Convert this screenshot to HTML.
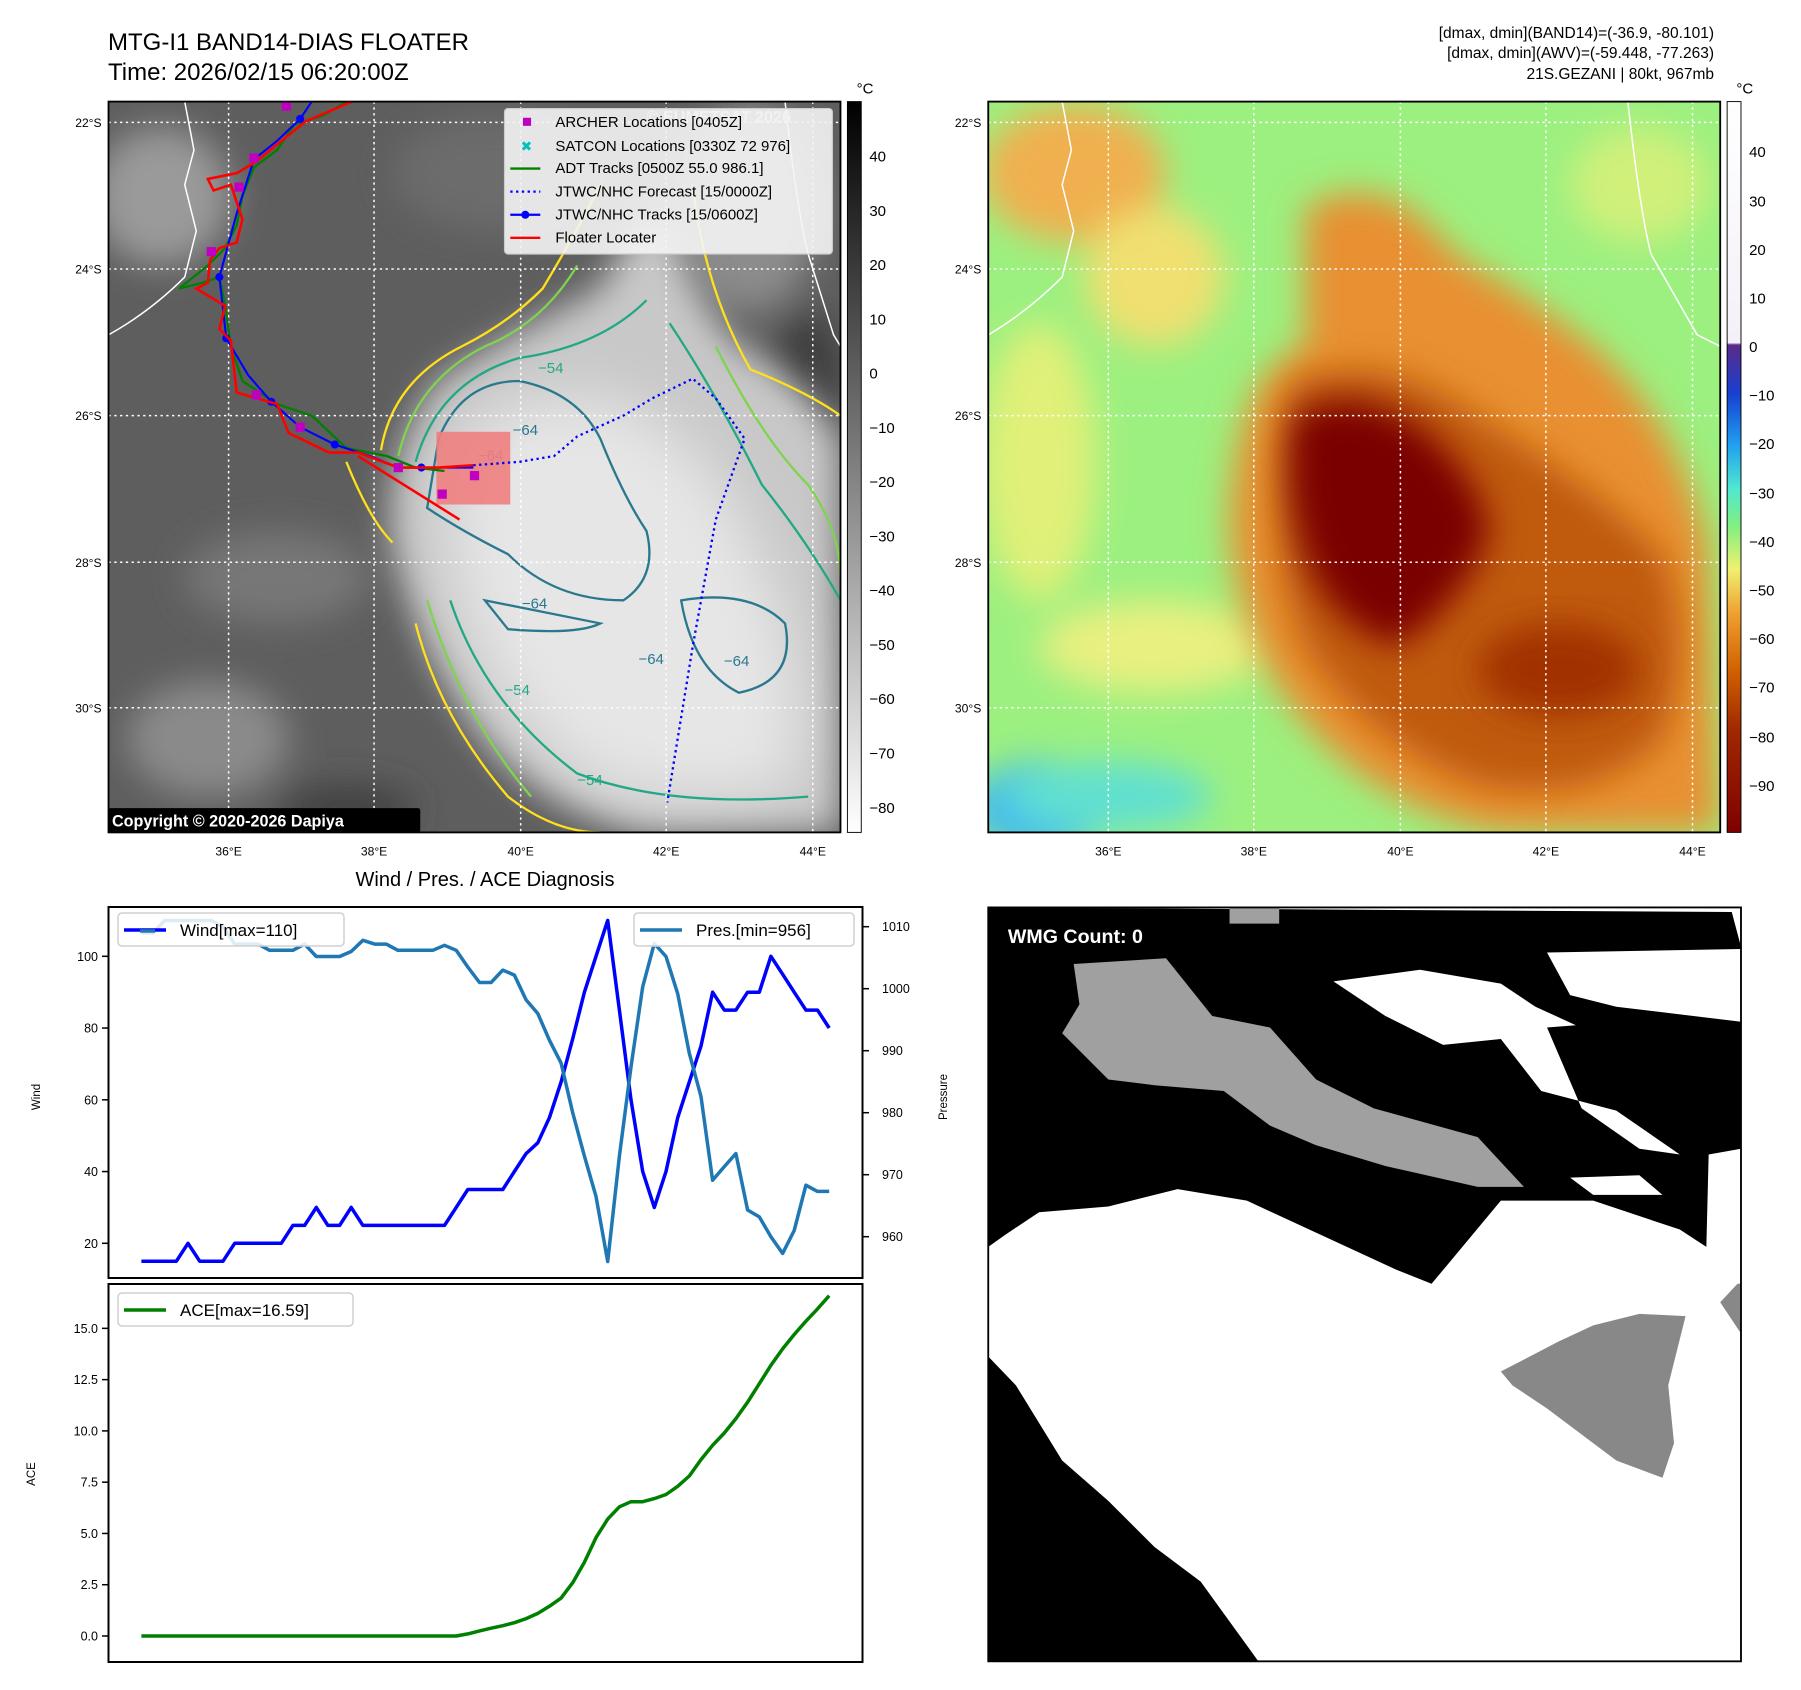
<!DOCTYPE html>
<html><head><meta charset="utf-8"><style>
html,body{margin:0;padding:0;background:#fff}
svg{display:block;font-family:"Liberation Sans","DejaVu Sans",sans-serif}
</style></head><body>
<svg id="root" width="1801" height="1690" viewBox="0 0 1801 1690" xmlns="http://www.w3.org/2000/svg">
<defs>
<filter id="b8" x="-20%" y="-20%" width="140%" height="140%"><feGaussianBlur stdDeviation="8"/></filter>
<filter id="b15" x="-30%" y="-30%" width="160%" height="160%"><feGaussianBlur stdDeviation="15"/></filter>
<filter id="b25" x="-30%" y="-30%" width="160%" height="160%"><feGaussianBlur stdDeviation="25"/></filter>
<clipPath id="cl1"><rect x="94" y="88" width="634" height="633"/></clipPath>
<clipPath id="cl2"><rect x="856" y="88" width="634" height="633"/></clipPath>
<clipPath id="cl3"><rect x="856" y="786" width="652" height="653"/></clipPath>
<linearGradient id="gcb" x1="0" y1="0" x2="0" y2="1"><stop offset="0" stop-color="#000"/><stop offset="1" stop-color="#fff"/></linearGradient>
<linearGradient id="ccb" x1="0" y1="0" x2="0" y2="1">
<stop offset="0" stop-color="#ffffff"/><stop offset="0.33" stop-color="#f4f0f8"/><stop offset="0.333" stop-color="#5a2a8a"/>
<stop offset="0.40" stop-color="#1840d0"/><stop offset="0.47" stop-color="#20a0f0"/><stop offset="0.53" stop-color="#50e8d0"/>
<stop offset="0.58" stop-color="#80f080"/><stop offset="0.64" stop-color="#f0f070"/><stop offset="0.70" stop-color="#f0a030"/>
<stop offset="0.78" stop-color="#d06000"/><stop offset="0.86" stop-color="#a02800"/><stop offset="1" stop-color="#800000"/></linearGradient>
</defs>

<!-- Titles -->
<text x="108" y="50" font-size="24">MTG-I1 BAND14-DIAS FLOATER</text>
<text x="108" y="80" font-size="24">Time: 2026/02/15 06:20:00Z</text>
<g font-size="15.5" text-anchor="end">
<text x="1714" y="38">[dmax, dmin](BAND14)=(-36.9, -80.101)</text>
<text x="1714" y="58">[dmax, dmin](AWV)=(-59.448, -77.263)</text>
<text x="1714" y="79">21S.GEZANI | 80kt, 967mb</text>
</g>

<g transform="scale(1.1545)">
<!-- ===== Panel 1: grayscale IR ===== -->
<g clip-path="url(#cl1)">
<rect x="94" y="88" width="634" height="633" fill="#5e5e5e"/>
<g filter="url(#b15)">
<ellipse cx="140" cy="170" rx="60" ry="60" fill="#9a9a9a"/>
<ellipse cx="240" cy="500" rx="80" ry="40" fill="#777"/>
<ellipse cx="180" cy="640" rx="70" ry="50" fill="#8a8a8a"/>
<ellipse cx="430" cy="150" rx="90" ry="50" fill="#6c6c6c"/>
<ellipse cx="650" cy="180" rx="60" ry="90" fill="#8c8c8c"/>
<ellipse cx="300" cy="700" rx="60" ry="20" fill="#404040"/>
<ellipse cx="700" cy="330" rx="30" ry="60" fill="#3e3e3e"/>
</g>
<path filter="url(#b15)" fill="#c8c8c8" d="M380,330 Q440,290 520,250 Q560,170 580,190 Q600,260 640,300 Q700,330 728,380 L728,721 L560,721 Q470,700 420,640 Q360,560 340,470 Q330,400 380,330Z"/>
<path filter="url(#b25)" fill="#e6e6e6" d="M400,380 Q460,330 540,350 Q620,390 650,470 Q700,560 690,680 Q600,700 520,680 Q430,620 400,520 Q380,440 400,380Z"/>
<g fill="none" stroke-width="2">
<path stroke="#ffe01a" d="M330,390 Q340,330 400,300 Q440,280 470,250 Q500,200 520,160 M360,540 Q380,620 440,690 Q480,721 520,721 M600,160 Q610,250 650,320 Q700,340 728,360 M300,400 Q320,450 340,470"/>
<path stroke="#7fd34e" d="M345,395 Q360,330 420,300 Q470,280 500,230 M370,520 Q400,620 460,690 M620,300 Q660,380 700,420 Q728,460 728,500"/>
<path stroke="#22a884" d="M360,400 Q380,330 450,310 Q520,300 560,260 M390,520 Q420,610 500,670 Q580,700 700,690 M580,280 Q620,340 660,420 Q700,470 728,520"/>
<path stroke="#2a788e" d="M380,380 Q400,330 450,330 Q500,340 520,380 Q540,430 560,460 Q570,500 540,520 Q480,520 440,480 Q400,460 370,440 Z M420,520 Q470,530 520,540 Q500,550 440,545Z M590,520 Q650,510 680,540 Q690,590 640,600 Q600,580 590,520Z"/>
</g>
<g fill="#2a788e" font-size="13"><text x="444" y="377">−64</text><text x="414" y="399">−64</text><text x="452" y="527">−64</text><text x="627" y="577">−64</text><text x="553" y="575">−64</text></g>
<g fill="#22a884" font-size="13"><text x="466" y="323">−54</text><text x="500" y="680">−54</text><text x="437" y="602">−54</text></g>
<g stroke="#fff" stroke-width="1.3" stroke-dasharray="2,3">
<line x1="198" y1="88" x2="198" y2="721"/><line x1="324" y1="88" x2="324" y2="721"/><line x1="451" y1="88" x2="451" y2="721"/><line x1="577" y1="88" x2="577" y2="721"/><line x1="704" y1="88" x2="704" y2="721"/>
<line x1="94" y1="106" x2="728" y2="106"/><line x1="94" y1="233" x2="728" y2="233"/><line x1="94" y1="360" x2="728" y2="360"/><line x1="94" y1="487" x2="728" y2="487"/><line x1="94" y1="613" x2="728" y2="613"/>
</g>
<path d="M94,290 Q130,270 160,240 L170,200 L160,160 L168,130 L160,88 M680,88 Q690,180 700,220 L722,290 L728,300" fill="none" stroke="#fff" stroke-width="1.3"/>
<rect x="378" y="374" width="64" height="63" fill="#f08080" opacity="0.9"/>
<polyline points="410,403 450,400 480,395 500,378 540,360 565,345 600,328 620,345 645,380 620,450 600,560 578,695" fill="none" stroke="#0000ff" stroke-width="2" stroke-dasharray="2,3"/>
<polyline points="300,88 280,100 255,108 240,130 220,145 210,170 205,195 195,215 180,230 155,250 175,245 190,240 195,265 200,300 210,330 240,350 270,360 300,388 335,395 360,405 385,408" fill="none" stroke="#008000" stroke-width="2"/>
<polyline points="270,88 260,103 240,122 220,138 205,185 190,240 196,293 215,325 235,348 260,370 290,385 320,395 345,405 365,405 410,405" fill="none" stroke="#0000ff" stroke-width="1.8"/>
<g fill="#0000ff"><circle cx="260" cy="103" r="3.5"/><circle cx="220" cy="138" r="3.5"/><circle cx="190" cy="240" r="3.5"/><circle cx="196" cy="293" r="3.5"/><circle cx="235" cy="348" r="3.5"/><circle cx="290" cy="385" r="3.5"/><circle cx="365" cy="405" r="3.5"/></g>
<polyline points="305,88 265,105 240,125 222,140 205,150 180,155 185,165 200,160 210,190 205,210 190,215 182,225 180,245 170,250 195,265 190,285 200,295 205,340 240,350 250,375 285,392 310,392 345,405 380,405 410,403" fill="none" stroke="#ff0000" stroke-width="2.2"/>
<line x1="310" y1="395" x2="398" y2="450" stroke="#ff0000" stroke-width="2.2"/>
<g fill="#c000c0"><rect x="244" y="88" width="8" height="8"/><rect x="216" y="133" width="8" height="8"/><rect x="203" y="158" width="8" height="8"/><rect x="179" y="214" width="8" height="8"/><rect x="218" y="338" width="8" height="8"/><rect x="256" y="366" width="8" height="8"/><rect x="341" y="401" width="8" height="8"/><rect x="379" y="424" width="8" height="8"/><rect x="407" y="408" width="8" height="8"/></g>
<g><rect x="94" y="700" width="270" height="21" rx="2" fill="#000"/><text x="97" y="716" fill="#fff" font-size="14" font-weight="bold">Copyright © 2020-2026 Dapiya</text></g>
<text x="560" y="106" fill="#e0e0e0" font-size="14" font-weight="bold">© EUMETSAT 2026</text>
<g>
<rect x="437" y="94" width="284" height="126" rx="3" fill="#f4f4f4" fill-opacity="0.9" stroke="#ccc"/>
<g font-size="13" fill="#000">
<text x="481" y="110">ARCHER Locations [0405Z]</text>
<text x="481" y="131">SATCON Locations [0330Z 72 976]</text>
<text x="481" y="150">ADT Tracks [0500Z 55.0 986.1]</text>
<text x="481" y="170">JTWC/NHC Forecast [15/0000Z]</text>
<text x="481" y="190">JTWC/NHC Tracks [15/0600Z]</text>
<text x="481" y="210">Floater Locater</text>
</g>
<rect x="453" y="102" width="7" height="7" fill="#c000c0"/>
<text x="451" y="131" font-size="12" fill="#00c0c0" font-weight="bold">✖</text>
<line x1="442" y1="146" x2="468" y2="146" stroke="#008000" stroke-width="2"/>
<line x1="442" y1="166" x2="468" y2="166" stroke="#0000ff" stroke-width="2" stroke-dasharray="2,3"/>
<line x1="442" y1="186" x2="468" y2="186" stroke="#0000ff" stroke-width="2"/><circle cx="455" cy="186" r="3.5" fill="#0000ff"/>
<line x1="442" y1="206" x2="468" y2="206" stroke="#ff0000" stroke-width="2"/>
</g>
</g>
<rect x="94" y="88" width="634" height="633" fill="none" stroke="#000" stroke-width="1.6"/>

<rect x="734" y="88" width="12" height="633" fill="url(#gcb)" stroke="#000" stroke-width="0.8"/>
<text x="742" y="81" font-size="13">°C</text>
<g font-size="13">
<text x="753" y="140">40</text><text x="753" y="187">30</text><text x="753" y="234">20</text><text x="753" y="281">10</text><text x="753" y="328">0</text><text x="753" y="375">−10</text><text x="753" y="422">−20</text><text x="753" y="469">−30</text><text x="753" y="516">−40</text><text x="753" y="563">−50</text><text x="753" y="610">−60</text><text x="753" y="657">−70</text><text x="753" y="704">−80</text>
</g>
<g font-size="10.5" text-anchor="end">
<text x="88" y="110">22°S</text><text x="88" y="237">24°S</text><text x="88" y="364">26°S</text><text x="88" y="491">28°S</text><text x="88" y="617">30°S</text></g>
<g font-size="10.5" text-anchor="middle">
<text x="198" y="741">36°E</text><text x="324" y="741">38°E</text><text x="451" y="741">40°E</text><text x="577" y="741">42°E</text><text x="704" y="741">44°E</text></g>

<!-- ===== Panel 2: colour enhanced ===== -->
<g clip-path="url(#cl2)">
<rect x="856" y="88" width="634" height="633" fill="#9cf080"/>
<g filter="url(#b15)">
<ellipse cx="930" cy="150" rx="80" ry="60" fill="#f0b050"/>
<ellipse cx="1000" cy="240" rx="60" ry="60" fill="#f0e070"/>
<ellipse cx="900" cy="400" rx="50" ry="120" fill="#e0f078"/>
<ellipse cx="1000" cy="560" rx="100" ry="40" fill="#e8f080"/>
<ellipse cx="1420" cy="160" rx="60" ry="50" fill="#d0f07a"/>
<ellipse cx="900" cy="700" rx="60" ry="40" fill="#40b8f0"/>
<ellipse cx="960" cy="690" rx="90" ry="30" fill="#60e0d0"/>
</g>
<path filter="url(#b15)" fill="#e89030" d="M1130,180 Q1200,140 1260,220 Q1330,260 1380,300 Q1450,360 1480,470 L1490,721 L1300,721 Q1180,700 1110,600 Q1050,500 1070,400 Q1080,320 1130,300 Z"/>
<path filter="url(#b15)" fill="#c05a10" d="M1120,330 Q1200,300 1280,360 Q1380,420 1440,480 Q1470,560 1440,640 Q1380,700 1280,680 Q1180,640 1130,560 Q1090,460 1120,330Z"/>
<path filter="url(#b15)" fill="#7a0000" d="M1120,360 Q1170,330 1230,370 Q1280,410 1290,460 Q1270,520 1210,560 Q1150,540 1130,480 Q1110,420 1120,360Z"/>
<ellipse filter="url(#b15)" cx="1350" cy="580" rx="70" ry="40" fill="#a03000"/>
<g stroke="#fff" stroke-width="1.3" stroke-dasharray="2,3">
<line x1="960" y1="88" x2="960" y2="721"/><line x1="1086" y1="88" x2="1086" y2="721"/><line x1="1213" y1="88" x2="1213" y2="721"/><line x1="1339" y1="88" x2="1339" y2="721"/><line x1="1466" y1="88" x2="1466" y2="721"/>
<line x1="856" y1="106" x2="1490" y2="106"/><line x1="856" y1="233" x2="1490" y2="233"/><line x1="856" y1="360" x2="1490" y2="360"/><line x1="856" y1="487" x2="1490" y2="487"/><line x1="856" y1="613" x2="1490" y2="613"/>
</g>
<path d="M856,290 Q890,270 920,240 L930,200 L920,160 L928,130 L920,88 M1410,88 Q1420,180 1430,220 L1470,290 L1490,300" fill="none" stroke="#fff" stroke-width="1.3"/>
</g>
<rect x="856" y="88" width="634" height="633" fill="none" stroke="#000" stroke-width="1.6"/>
<rect x="1496" y="88" width="12" height="633" fill="url(#ccb)" stroke="#000" stroke-width="0.8"/>
<text x="1504" y="81" font-size="13">°C</text>
<g font-size="13">
<text x="1515" y="136">40</text><text x="1515" y="179">30</text><text x="1515" y="221">20</text><text x="1515" y="263">10</text><text x="1515" y="305">0</text><text x="1515" y="347">−10</text><text x="1515" y="389">−20</text><text x="1515" y="432">−30</text><text x="1515" y="474">−40</text><text x="1515" y="516">−50</text><text x="1515" y="558">−60</text><text x="1515" y="600">−70</text><text x="1515" y="643">−80</text><text x="1515" y="685">−90</text>
</g>
<g font-size="10.5" text-anchor="end">
<text x="850" y="110">22°S</text><text x="850" y="237">24°S</text><text x="850" y="364">26°S</text><text x="850" y="491">28°S</text><text x="850" y="617">30°S</text></g>
<g font-size="10.5" text-anchor="middle">
<text x="960" y="741">36°E</text><text x="1086" y="741">38°E</text><text x="1213" y="741">40°E</text><text x="1339" y="741">42°E</text><text x="1466" y="741">44°E</text></g>

<!-- ===== Panel 4: WMG ===== -->
<g clip-path="url(#cl3)">
<rect x="856" y="786" width="652" height="653" fill="#fff"/>
<polygon fill="#000" points="856,786 1500,790 1508,820 1508,995 1480,1000 1478,1080 1455,1065 1380,1040 1300,1040 1250,1100 1240,1112 1210,1100 1080,1040 1020,1030 960,1045 900,1050 870,1070 856,1080"/>
<polygon fill="#fff" points="1340,825 1508,822 1508,885 1400,872 1360,862"/>
<polygon fill="#fff" points="1155,850 1230,840 1300,852 1330,872 1365,888 1340,890 1370,960 1420,995 1455,1000 1400,962 1335,945 1300,900 1250,905 1200,880"/>
<polygon fill="#fff" points="1360,1020 1420,1018 1440,1035 1380,1035"/>
<polygon fill="#a0a0a0" points="930,835 1010,830 1050,880 1100,890 1140,935 1190,960 1280,985 1320,1028 1280,1028 1200,1010 1140,992 1100,975 1060,945 1000,940 960,935 920,895 935,870"/>
<polygon fill="#a0a0a0" points="1065,786 1108,786 1108,800 1065,800"/>
<polygon fill="#888" points="1300,1188 1350,1162 1380,1148 1420,1138 1460,1140 1445,1200 1450,1250 1440,1280 1400,1265 1340,1220 1310,1200"/>
<polygon fill="#888" points="1490,1128 1505,1112 1508,1112 1508,1155"/>
<polygon fill="#000" points="856,1175 880,1200 920,1265 960,1300 1000,1340 1040,1370 1090,1439 856,1439"/>
<text x="873" y="817" font-size="17" font-weight="bold" fill="#fff">WMG Count: 0</text>
</g>
<rect x="856" y="786" width="652" height="653" fill="none" stroke="#000" stroke-width="1.6"/>
</g>

<g id="diag">
<text x="485" y="886" font-size="20" text-anchor="middle">Wind / Pres. / ACE Diagnosis</text>
<rect x="108.5" y="907" width="754" height="371" fill="none" stroke="#000" stroke-width="2"/>
<rect x="108.5" y="1284" width="754" height="378" fill="none" stroke="#000" stroke-width="2"/>
<text transform="translate(40,1097) rotate(-90)" font-size="11.5" text-anchor="middle">Wind</text>
<text transform="translate(947,1097) rotate(-90)" font-size="11.5" text-anchor="middle">Pressure</text>
<text transform="translate(35,1474) rotate(-90)" font-size="11.5" text-anchor="middle">ACE</text>
<g id="marks"></g>
</g>
</svg>
<script>
const windVals=[15,15,15,15,20,15,15,15,20,20,20,20,20,25,25,30,25,25,30,25,25,25,25,25,25,25,25,30,35,35,35,35,40,45,48,55,65,77,90,100,110,85,60,40,30,40,55,65,75,90,85,85,90,90,100,95,90,85,85,80];
const presVals=[1009,1009,1011,1011,1011,1011,1011,1010,1007.2,1007.2,1007.2,1006.2,1006.2,1006.2,1007.2,1005.2,1005.2,1005.2,1006,1007.8,1007.2,1007.2,1006.2,1006.2,1006.2,1006.2,1007,1006.2,1003.5,1001,1001,1003,1002.2,998.2,996,991.7,988,980,973,966.5,956,973,987.4,1000.3,1007.3,1005.2,999.2,989.6,982.6,969.1,971.3,973.4,964.3,963.2,960,957.3,961,968.3,967.3,967.3];
const aceVals=[0,0,0,0,0,0,0,0,0,0,0,0,0,0,0,0,0,0,0,0,0,0,0,0,0,0,0,0,0.1,0.25,0.38,0.5,0.65,0.85,1.1,1.45,1.85,2.6,3.6,4.8,5.7,6.3,6.55,6.55,6.7,6.9,7.3,7.8,8.6,9.3,9.9,10.6,11.4,12.3,13.2,14.0,14.7,15.35,15.95,16.59];
const windTicks=[20,40,60,80,100];
const presTicks=[960,970,980,990,1000,1010];
const aceTicks=[0.0,2.5,5.0,7.5,10.0,12.5,15.0];
const NS='http://www.w3.org/2000/svg';
const X0=141.4,X1=829.2;
function xs(i){return X0+i*(X1-X0)/(windVals.length-1);}
function yW(v){return 956.3+(100-v)*3.5875;}
function yP(p){return 926.7+(1010-p)*6.2;}
function yA(v){return 1636-v*20.51;}
const g=document.getElementById('marks');
function mk(tag,attrs){const e=document.createElementNS(NS,tag);for(const k in attrs)e.setAttribute(k,attrs[k]);g.appendChild(e);return e;}
function line(vals,yf,color,name){
  const pts=vals.map((v,i)=>xs(i).toFixed(1)+','+yf(v).toFixed(1)).join(' ');
  const p=mk('polyline',{points:pts,fill:'none',stroke:color,'stroke-width':3.5,'stroke-linejoin':'round'});
  
  
}
line(windVals,yW,'#0000ff','wind-line');
line(presVals,yP,'#1f77b4','pressure-line');
line(aceVals,yA,'#008000','ace-line');
windTicks.forEach(t=>{
  const y=yW(t);
  mk('line',{x1:102,y1:y,x2:108.5,y2:y,stroke:'#000','stroke-width':1.5});
  const tx=mk('text',{x:98,y:y+4.5,'font-size':12.5,'text-anchor':'end'});tx.textContent=t;
  
  
});
presTicks.forEach(t=>{
  const y=yP(t);
  mk('line',{x1:862.5,y1:y,x2:869,y2:y,stroke:'#000','stroke-width':1.5});
  const tx=mk('text',{x:882,y:y+4.5,'font-size':12.5});tx.textContent=t;
  
  
});
aceTicks.forEach(t=>{
  const y=yA(t);
  mk('line',{x1:102,y1:y,x2:108.5,y2:y,stroke:'#000','stroke-width':1.5});
  const tx=mk('text',{x:98,y:y+4.5,'font-size':12.5,'text-anchor':'end'});tx.textContent=t.toFixed(1);
  
  
});
function legend(x,y,w,color,label,name){
  const r=mk('rect',{x:x,y:y,width:w,height:33,rx:4,fill:'#fff','fill-opacity':0.85,stroke:'#d0d0d0','stroke-width':1.5});
  
  
  mk('line',{x1:x+6,y1:y+17,x2:x+48,y2:y+17,stroke:color,'stroke-width':3.5});
  const t=mk('text',{x:x+62,y:y+23,'font-size':17});t.textContent=label;
}
legend(118,913,226,'#0000ff','Wind[max=110]','wind-legend');
mk('line',{x1:140,y1:931,x2:155,y2:931,stroke:'#1f77b4','stroke-width':3.5});
legend(634,913,220,'#1f77b4','Pres.[min=956]','pressure-legend');
legend(118,1293,235,'#008000','ACE[max=16.59]','ace-legend');
</script>
</body></html>
